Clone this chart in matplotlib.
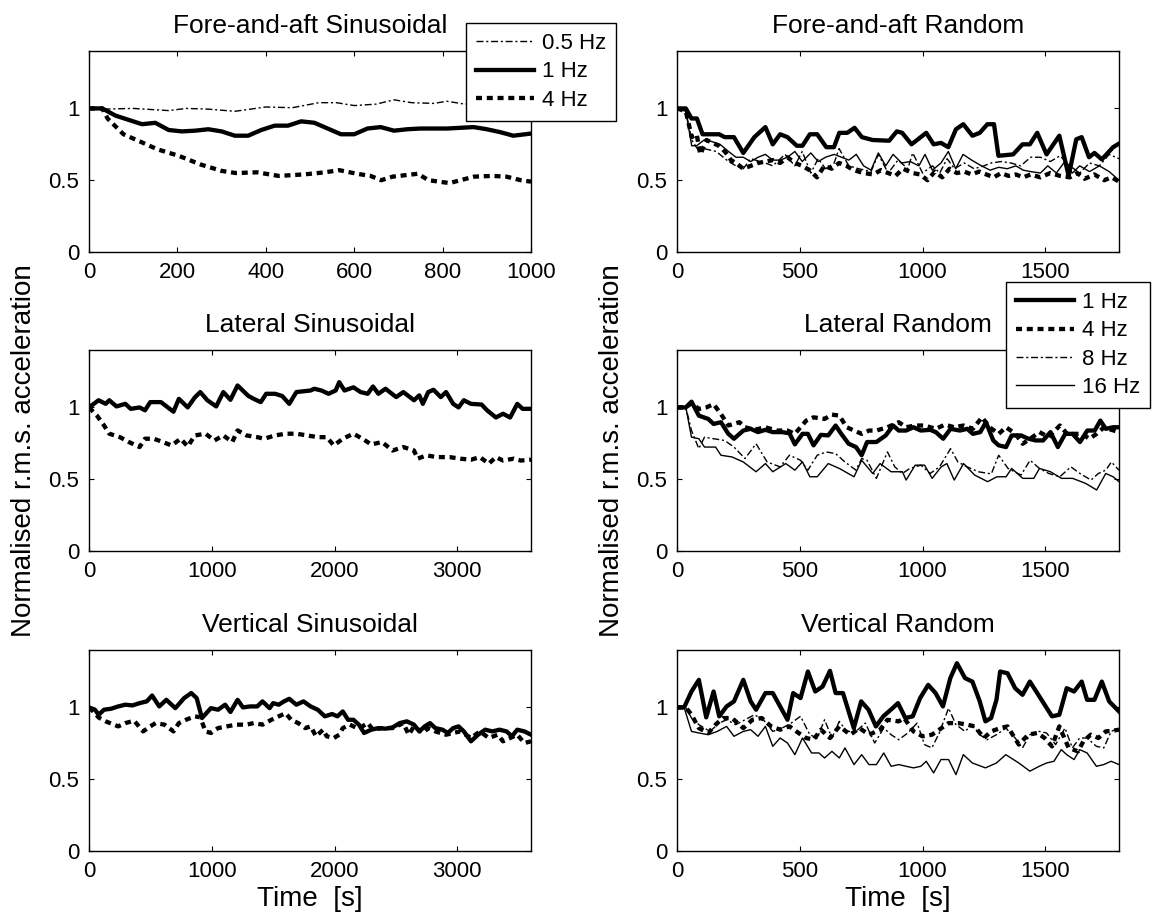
import matplotlib
matplotlib.use("Agg")
import matplotlib.pyplot as plt

plt.rcParams['font.family'] = ['Liberation Sans', 'DejaVu Sans']

# ---- Fore-and-aft sinusoidal (0.5, 1, 4 Hz)
fa_sin_t05 = [0, 30, 100, 180, 220, 270, 330, 400, 460, 520, 560, 600, 650, 690, 730, 780, 810, 850, 900, 950, 1000]
fa_sin_05 = [1.0, 0.995, 1.0, 0.985, 1.0, 0.995, 0.98, 1.01, 1.005, 1.04, 1.04, 1.02, 1.03, 1.06, 1.04, 1.035, 1.05, 1.03, 1.04, 1.05, 1.05]
fa_sin_t1 = [0, 30, 60, 90, 120, 150, 180, 210, 240, 270, 300, 330, 360, 390, 420, 450, 480, 510, 540, 570, 600, 630, 660, 690, 720, 750, 780, 810, 840, 870, 900, 930, 960, 1000]
fa_sin_1 = [1.0, 1.0, 0.95, 0.92, 0.89, 0.90, 0.85, 0.84, 0.845, 0.855, 0.84, 0.81, 0.81, 0.85, 0.88, 0.88, 0.91, 0.90, 0.86, 0.82, 0.82, 0.86, 0.87, 0.845, 0.855, 0.86, 0.86, 0.86, 0.865, 0.87, 0.855, 0.835, 0.81, 0.825]
fa_sin_t4 = [0, 30, 42, 78, 115, 155, 203, 252, 300, 332, 380, 429, 485, 534, 566, 606, 637, 661, 687, 744, 768, 816, 840, 872, 912, 944, 977, 1000]
fa_sin_4 = [1.0, 1.0, 0.93, 0.82, 0.77, 0.715, 0.67, 0.61, 0.565, 0.55, 0.555, 0.53, 0.54, 0.555, 0.57, 0.545, 0.53, 0.50, 0.525, 0.545, 0.50, 0.48, 0.50, 0.525, 0.53, 0.525, 0.50, 0.49]

# ---- Fore-and-aft random (1, 4, 8, 16 Hz)
fa_rnd_t1 = [0, 36, 59, 81, 104, 127, 172, 194, 232, 270, 315, 360, 390, 420, 450, 488, 511, 541, 571, 608, 639, 661, 693, 723, 753, 797, 864, 895, 917, 955, 1015, 1045, 1075, 1105, 1136, 1166, 1203, 1233, 1264, 1291, 1309, 1369, 1407, 1437, 1467, 1505, 1557, 1595, 1626, 1648, 1678, 1700, 1730, 1776, 1800]
fa_rnd_1 = [1.0, 1.0, 0.93, 0.93, 0.82, 0.82, 0.82, 0.80, 0.80, 0.69, 0.80, 0.87, 0.75, 0.82, 0.80, 0.74, 0.74, 0.82, 0.82, 0.73, 0.73, 0.83, 0.83, 0.865, 0.80, 0.78, 0.775, 0.84, 0.83, 0.75, 0.83, 0.75, 0.76, 0.73, 0.855, 0.89, 0.81, 0.83, 0.89, 0.89, 0.67, 0.68, 0.75, 0.75, 0.83, 0.68, 0.81, 0.53, 0.785, 0.80, 0.66, 0.69, 0.645, 0.73, 0.755]
fa_rnd_t4 = [0, 36, 60, 80, 95, 120, 170, 195, 220, 240, 270, 300, 330, 360, 390, 420, 450, 480, 510, 540, 570, 600, 630, 660, 690, 720, 760, 800, 830, 860, 890, 920, 960, 990, 1020, 1050, 1080, 1110, 1140, 1170, 1200, 1230, 1260, 1290, 1320, 1350, 1380, 1410, 1440, 1480, 1520, 1560, 1600, 1630, 1660, 1700, 1740, 1770, 1800]
fa_rnd_4 = [1.0, 0.98, 0.80, 0.82, 0.68, 0.78, 0.74, 0.70, 0.64, 0.62, 0.58, 0.60, 0.62, 0.63, 0.64, 0.62, 0.66, 0.62, 0.60, 0.57, 0.52, 0.60, 0.58, 0.62, 0.60, 0.57, 0.55, 0.54, 0.57, 0.55, 0.53, 0.58, 0.55, 0.54, 0.50, 0.56, 0.52, 0.58, 0.55, 0.56, 0.54, 0.56, 0.54, 0.52, 0.55, 0.53, 0.54, 0.52, 0.54, 0.52, 0.55, 0.53, 0.52, 0.55, 0.51, 0.54, 0.50, 0.52, 0.49]
fa_rnd_t8 = [0, 36, 60, 90, 110, 160, 210, 240, 270, 300, 360, 390, 440, 480, 510, 545, 575, 605, 640, 660, 700, 740, 790, 820, 860, 900, 940, 960, 1000, 1040, 1070, 1100, 1130, 1170, 1210, 1250, 1280, 1320, 1360, 1400, 1440, 1480, 1520, 1560, 1600, 1640, 1680, 1720, 1760, 1800]
fa_rnd_8 = [1.0, 0.98, 0.78, 0.70, 0.72, 0.70, 0.63, 0.60, 0.58, 0.65, 0.62, 0.60, 0.68, 0.60, 0.70, 0.55, 0.65, 0.58, 0.62, 0.72, 0.60, 0.58, 0.56, 0.68, 0.55, 0.64, 0.58, 0.69, 0.55, 0.60, 0.55, 0.65, 0.58, 0.62, 0.58, 0.60, 0.62, 0.63, 0.62, 0.60, 0.66, 0.66, 0.63, 0.67, 0.60, 0.55, 0.62, 0.60, 0.68, 0.65]
fa_rnd_t16 = [0, 36, 60, 80, 110, 140, 175, 210, 240, 270, 300, 330, 360, 390, 420, 450, 480, 510, 545, 575, 605, 640, 670, 700, 730, 760, 790, 820, 850, 880, 915, 950, 985, 1010, 1040, 1075, 1105, 1135, 1165, 1200, 1240, 1275, 1310, 1345, 1380, 1410, 1440, 1480, 1510, 1545, 1575, 1610, 1640, 1680, 1720, 1760, 1800]
fa_rnd_16 = [1.0, 0.98, 0.74, 0.74, 0.78, 0.77, 0.75, 0.70, 0.66, 0.66, 0.63, 0.66, 0.68, 0.64, 0.64, 0.66, 0.70, 0.63, 0.69, 0.63, 0.66, 0.68, 0.66, 0.64, 0.68, 0.60, 0.57, 0.69, 0.60, 0.68, 0.62, 0.63, 0.60, 0.68, 0.57, 0.62, 0.70, 0.58, 0.68, 0.64, 0.60, 0.57, 0.59, 0.58, 0.60, 0.57, 0.56, 0.55, 0.60, 0.55, 0.62, 0.55, 0.60, 0.56, 0.60, 0.56, 0.50]

# ---- Lateral sinusoidal (1, 4 Hz)
lat_sin_t1 = [0, 78, 136, 165, 224, 296, 340, 412, 456, 499, 586, 688, 732, 804, 862, 906, 964, 1036, 1094, 1152, 1210, 1298, 1341, 1399, 1443, 1515, 1573, 1631, 1689, 1805, 1835, 1893, 1951, 2009, 2038, 2081, 2154, 2212, 2270, 2313, 2357, 2415, 2502, 2560, 2647, 2690, 2719, 2763, 2806, 2865, 2908, 2966, 3010, 3053, 3111, 3198, 3242, 3314, 3372, 3430, 3488, 3532, 3600]
lat_sin_1 = [1.0, 1.05, 1.025, 1.05, 1.007, 1.025, 0.99, 1.0, 0.98, 1.037, 1.037, 0.97, 1.06, 1.0, 1.07, 1.107, 1.05, 1.007, 1.107, 1.053, 1.153, 1.08, 1.06, 1.037, 1.095, 1.095, 1.08, 1.025, 1.107, 1.118, 1.13, 1.118, 1.095, 1.118, 1.176, 1.118, 1.14, 1.107, 1.095, 1.146, 1.095, 1.13, 1.072, 1.107, 1.05, 1.084, 1.025, 1.107, 1.123, 1.072, 1.107, 1.025, 1.0, 1.05, 1.025, 1.02, 0.98, 0.93, 0.956, 0.93, 1.025, 0.99, 0.99]
lat_sin_t4 = [0, 64, 122, 165, 252, 325, 412, 456, 528, 601, 673, 746, 804, 862, 949, 1022, 1094, 1167, 1210, 1283, 1370, 1428, 1515, 1602, 1689, 1776, 1863, 1936, 1994, 2067, 2154, 2227, 2299, 2386, 2473, 2560, 2647, 2676, 2748, 2835, 2937, 3024, 3111, 3184, 3256, 3314, 3372, 3459, 3517, 3600]
lat_sin_4 = [1.0, 0.944, 0.875, 0.817, 0.793, 0.759, 0.724, 0.782, 0.782, 0.759, 0.735, 0.782, 0.728, 0.805, 0.817, 0.77, 0.805, 0.759, 0.84, 0.805, 0.793, 0.782, 0.805, 0.817, 0.817, 0.805, 0.793, 0.793, 0.735, 0.782, 0.817, 0.782, 0.742, 0.759, 0.70, 0.724, 0.70, 0.643, 0.666, 0.654, 0.654, 0.643, 0.636, 0.654, 0.608, 0.654, 0.63, 0.643, 0.63, 0.636]

# ---- Lateral random (1, 4, 8, 16 Hz)
lat_rnd_t1 = [0, 36, 59, 89, 127, 149, 179, 209, 232, 270, 300, 330, 360, 390, 428, 458, 480, 511, 533, 556, 586, 616, 646, 669, 699, 729, 752, 774, 812, 850, 880, 903, 933, 963, 993, 1031, 1054, 1084, 1114, 1152, 1182, 1205, 1235, 1258, 1288, 1310, 1340, 1363, 1401, 1431, 1461, 1491, 1521, 1551, 1581, 1611, 1641, 1671, 1701, 1724, 1746, 1776, 1800]
lat_rnd_1 = [1.0, 1.0, 1.04, 0.943, 0.92, 0.885, 0.897, 0.816, 0.782, 0.839, 0.851, 0.828, 0.844, 0.828, 0.828, 0.82, 0.743, 0.816, 0.816, 0.736, 0.809, 0.805, 0.874, 0.816, 0.747, 0.724, 0.667, 0.759, 0.759, 0.805, 0.874, 0.839, 0.839, 0.862, 0.839, 0.844, 0.828, 0.782, 0.851, 0.839, 0.851, 0.816, 0.828, 0.897, 0.77, 0.736, 0.724, 0.805, 0.805, 0.782, 0.77, 0.77, 0.828, 0.724, 0.816, 0.816, 0.759, 0.839, 0.839, 0.908, 0.851, 0.862, 0.862]
lat_rnd_t4 = [0, 36, 59, 89, 119, 149, 179, 209, 254, 277, 315, 360, 405, 450, 480, 526, 556, 601, 631, 661, 691, 721, 752, 782, 812, 857, 903, 933, 970, 1008, 1054, 1091, 1129, 1167, 1205, 1242, 1273, 1310, 1340, 1378, 1408, 1438, 1476, 1514, 1559, 1589, 1619, 1649, 1679, 1709, 1739, 1769, 1800]
lat_rnd_4 = [1.0, 1.0, 1.03, 0.989, 1.0, 1.023, 0.954, 0.874, 0.897, 0.862, 0.844, 0.862, 0.839, 0.839, 0.816, 0.908, 0.931, 0.92, 0.95, 0.943, 0.862, 0.839, 0.816, 0.839, 0.839, 0.862, 0.897, 0.862, 0.874, 0.874, 0.851, 0.88, 0.862, 0.874, 0.851, 0.931, 0.862, 0.816, 0.862, 0.816, 0.747, 0.782, 0.828, 0.793, 0.874, 0.816, 0.816, 0.816, 0.782, 0.816, 0.862, 0.844, 0.828]
lat_rnd_t8 = [0, 36, 59, 89, 112, 149, 194, 232, 277, 322, 367, 420, 458, 503, 533, 571, 608, 646, 684, 729, 752, 774, 812, 857, 887, 918, 948, 993, 1031, 1069, 1114, 1144, 1182, 1227, 1280, 1310, 1348, 1401, 1438, 1476, 1514, 1559, 1604, 1641, 1686, 1716, 1746, 1769, 1800]
lat_rnd_8 = [1.0, 1.0, 0.839, 0.713, 0.793, 0.782, 0.77, 0.724, 0.644, 0.747, 0.62, 0.586, 0.667, 0.632, 0.563, 0.667, 0.69, 0.678, 0.62, 0.563, 0.644, 0.632, 0.506, 0.69, 0.586, 0.54, 0.575, 0.598, 0.54, 0.586, 0.713, 0.62, 0.586, 0.552, 0.537, 0.667, 0.575, 0.529, 0.632, 0.575, 0.54, 0.517, 0.586, 0.54, 0.494, 0.54, 0.563, 0.62, 0.563]
lat_rnd_t16 = [0, 36, 59, 89, 112, 157, 179, 224, 270, 322, 360, 390, 443, 480, 511, 541, 571, 616, 661, 721, 752, 797, 827, 872, 918, 933, 970, 1008, 1039, 1076, 1099, 1129, 1167, 1212, 1265, 1303, 1340, 1363, 1408, 1453, 1476, 1521, 1566, 1611, 1664, 1709, 1746, 1776, 1800]
lat_rnd_16 = [1.0, 1.0, 0.793, 0.782, 0.724, 0.724, 0.667, 0.655, 0.62, 0.552, 0.609, 0.552, 0.609, 0.563, 0.621, 0.517, 0.517, 0.609, 0.575, 0.517, 0.632, 0.54, 0.609, 0.552, 0.552, 0.494, 0.598, 0.598, 0.506, 0.586, 0.609, 0.494, 0.609, 0.529, 0.483, 0.517, 0.517, 0.575, 0.506, 0.506, 0.575, 0.552, 0.506, 0.506, 0.471, 0.425, 0.54, 0.517, 0.483]

# ---- Vertical sinusoidal (1, 4 Hz)
vert_sin_t1 = [0, 49, 78, 122, 180, 238, 296, 354, 412, 470, 514, 572, 630, 703, 775, 833, 877, 920, 993, 1051, 1109, 1152, 1210, 1254, 1312, 1370, 1413, 1471, 1500, 1545, 1588, 1631, 1689, 1747, 1805, 1863, 1921, 1980, 2023, 2067, 2110, 2154, 2198, 2241, 2299, 2357, 2415, 2473, 2531, 2589, 2647, 2690, 2734, 2777, 2821, 2879, 2922, 2966, 3010, 3053, 3111, 3169, 3227, 3285, 3343, 3401, 3445, 3488, 3546, 3600]
vert_sin_1 = [1.0, 0.984, 0.949, 0.984, 0.991, 1.007, 1.019, 1.014, 1.03, 1.042, 1.083, 1.007, 1.053, 0.995, 1.065, 1.1, 1.065, 0.926, 0.995, 0.984, 1.019, 0.968, 1.053, 1.0, 1.007, 1.007, 1.042, 0.995, 1.03, 1.019, 1.042, 1.06, 1.019, 1.042, 1.007, 0.984, 0.938, 0.954, 0.938, 0.972, 0.914, 0.914, 0.88, 0.822, 0.845, 0.856, 0.852, 0.861, 0.891, 0.903, 0.88, 0.833, 0.868, 0.891, 0.856, 0.845, 0.822, 0.856, 0.868, 0.833, 0.764, 0.81, 0.845, 0.833, 0.845, 0.833, 0.799, 0.845, 0.833, 0.81]
vert_sin_t4 = [0, 49, 78, 136, 238, 296, 368, 441, 499, 543, 615, 688, 732, 790, 862, 906, 949, 993, 1051, 1123, 1196, 1283, 1341, 1413, 1486, 1545, 1602, 1646, 1704, 1762, 1805, 1849, 1907, 1936, 1994, 2038, 2067, 2125, 2183, 2227, 2270, 2313, 2386, 2473, 2560, 2604, 2647, 2719, 2763, 2821, 2908, 2966, 3024, 3111, 3184, 3256, 3329, 3372, 3430, 3488, 3546, 3600]
vert_sin_4 = [1.0, 0.96, 0.93, 0.903, 0.868, 0.891, 0.907, 0.833, 0.868, 0.891, 0.88, 0.833, 0.891, 0.914, 0.938, 0.931, 0.833, 0.822, 0.856, 0.868, 0.88, 0.88, 0.891, 0.88, 0.914, 0.938, 0.96, 0.914, 0.891, 0.856, 0.868, 0.799, 0.845, 0.799, 0.787, 0.81, 0.856, 0.88, 0.856, 0.868, 0.891, 0.845, 0.856, 0.856, 0.891, 0.81, 0.868, 0.822, 0.856, 0.833, 0.81, 0.822, 0.833, 0.787, 0.833, 0.787, 0.81, 0.764, 0.787, 0.81, 0.752, 0.764]

# ---- Vertical random (1, 4, 8, 16 Hz)
vert_rnd_t1 = [0, 29, 59, 89, 119, 149, 172, 202, 232, 270, 300, 322, 360, 390, 420, 450, 473, 503, 533, 563, 593, 623, 646, 676, 720, 750, 780, 810, 840, 878, 900, 930, 960, 990, 1023, 1053, 1083, 1113, 1140, 1173, 1203, 1233, 1256, 1279, 1301, 1316, 1346, 1377, 1407, 1437, 1467, 1497, 1527, 1557, 1587, 1617, 1648, 1670, 1700, 1730, 1760, 1800]
vert_rnd_1 = [1.0, 1.0, 1.111, 1.192, 0.931, 1.111, 0.938, 1.007, 1.042, 1.192, 1.042, 0.984, 1.1, 1.1, 1.007, 0.914, 1.1, 1.065, 1.25, 1.111, 1.146, 1.255, 1.1, 1.1, 0.856, 1.042, 0.984, 0.868, 0.938, 0.995, 1.03, 0.926, 0.938, 1.065, 1.157, 1.1, 1.007, 1.204, 1.308, 1.204, 1.18, 1.042, 0.903, 0.926, 1.053, 1.25, 1.238, 1.134, 1.088, 1.18, 1.1, 1.019, 0.938, 0.949, 1.134, 1.111, 1.18, 1.053, 1.053, 1.18, 1.042, 0.972]
vert_rnd_t4 = [0, 36, 59, 89, 127, 157, 187, 224, 270, 307, 345, 383, 420, 458, 495, 526, 556, 586, 623, 661, 706, 743, 782, 827, 857, 903, 925, 963, 1000, 1038, 1068, 1106, 1144, 1182, 1212, 1250, 1279, 1316, 1346, 1392, 1430, 1467, 1497, 1527, 1557, 1595, 1633, 1655, 1685, 1716, 1746, 1776, 1800]
vert_rnd_4 = [1.0, 1.0, 0.949, 0.856, 0.822, 0.88, 0.926, 0.926, 0.856, 0.914, 0.926, 0.868, 0.845, 0.868, 0.822, 0.787, 0.775, 0.845, 0.787, 0.868, 0.81, 0.856, 0.81, 0.845, 0.914, 0.903, 0.926, 0.833, 0.799, 0.81, 0.845, 0.891, 0.891, 0.88, 0.868, 0.787, 0.833, 0.856, 0.868, 0.741, 0.81, 0.822, 0.787, 0.729, 0.868, 0.718, 0.694, 0.764, 0.81, 0.787, 0.833, 0.838, 0.845]
vert_rnd_t8 = [0, 36, 59, 89, 134, 172, 202, 239, 277, 315, 352, 390, 428, 465, 503, 541, 571, 601, 631, 661, 691, 729, 767, 805, 842, 872, 903, 940, 978, 1008, 1038, 1068, 1106, 1136, 1173, 1203, 1233, 1263, 1301, 1339, 1377, 1407, 1437, 1475, 1505, 1542, 1580, 1610, 1640, 1670, 1708, 1738, 1768, 1800]
vert_rnd_8 = [1.0, 1.0, 0.926, 0.88, 0.833, 0.891, 0.914, 0.88, 0.914, 0.949, 0.914, 0.833, 0.856, 0.891, 0.938, 0.81, 0.787, 0.914, 0.787, 0.903, 0.833, 0.833, 0.891, 0.752, 0.856, 0.81, 0.775, 0.822, 0.891, 0.741, 0.718, 0.822, 0.995, 0.88, 0.833, 0.88, 0.81, 0.775, 0.81, 0.856, 0.787, 0.718, 0.81, 0.833, 0.822, 0.741, 0.856, 0.718, 0.787, 0.787, 0.729, 0.718, 0.833, 0.856]
vert_rnd_t16 = [0, 29, 59, 89, 127, 164, 202, 232, 270, 300, 330, 360, 390, 420, 450, 480, 511, 548, 578, 601, 631, 661, 684, 721, 752, 782, 812, 842, 872, 903, 933, 963, 993, 1015, 1045, 1075, 1106, 1136, 1166, 1203, 1256, 1301, 1339, 1392, 1437, 1475, 1505, 1535, 1565, 1587, 1617, 1640, 1670, 1708, 1738, 1768, 1800]
vert_rnd_16 = [1.0, 1.0, 0.833, 0.822, 0.81, 0.833, 0.868, 0.799, 0.833, 0.845, 0.799, 0.868, 0.729, 0.787, 0.752, 0.671, 0.787, 0.683, 0.683, 0.648, 0.694, 0.648, 0.718, 0.602, 0.671, 0.602, 0.602, 0.683, 0.59, 0.602, 0.59, 0.579, 0.59, 0.625, 0.544, 0.637, 0.637, 0.532, 0.671, 0.613, 0.579, 0.613, 0.671, 0.613, 0.556, 0.59, 0.613, 0.625, 0.706, 0.671, 0.637, 0.706, 0.683, 0.59, 0.602, 0.625, 0.602]

# line styles
thick = dict(color='k', lw=3.1, solid_joinstyle='round')
dotted = dict(color='k', lw=3.1, ls=(0, (1.4, 1.1)), dash_capstyle='butt')
dashdot = dict(color='k', lw=1.0, ls=(0, (5, 2, 1.5, 2)))
thin = dict(color='k', lw=1.0)

W, H = 1161, 916
fig = plt.figure(figsize=(W / 100, H / 100), dpi=100)


def make_axes(left, top):
    # pixel box -> figure fraction
    return fig.add_axes([left / W, 1 - (top + 201) / H, 442 / W, 201 / H])


def style(ax, title, xmax, xticks):
    ax.set_xlim(0, xmax)
    ax.set_ylim(0, 1.4)
    ax.set_xticks(xticks)
    ax.set_yticks([0, 0.5, 1])
    ax.set_yticklabels(['0', '0.5', '1'])
    ax.tick_params(direction='in', top=True, right=True, length=3.6, width=0.8,
                   labelsize=16, pad=7)
    for s in ax.spines.values():
        s.set_linewidth(1.0)
    ax.set_title(title, fontsize=19, pad=13)


ax1 = make_axes(89, 51)
ax2 = make_axes(677, 51)
ax3 = make_axes(89, 350)
ax4 = make_axes(677, 350)
ax5 = make_axes(89, 650)
ax6 = make_axes(677, 650)

sin_ticks_short = [0, 200, 400, 600, 800, 1000]
sin_ticks = [0, 1000, 2000, 3000]
rnd_ticks = [0, 500, 1000, 1500]

h05, = ax1.plot(fa_sin_t05, fa_sin_05, **dashdot)
h1, = ax1.plot(fa_sin_t1, fa_sin_1, **thick)
h4, = ax1.plot(fa_sin_t4, fa_sin_4, **dotted)
style(ax1, 'Fore-and-aft Sinusoidal', 1000, sin_ticks_short)

ax2.plot(fa_rnd_t16, fa_rnd_16, **thin)
ax2.plot(fa_rnd_t8, fa_rnd_8, **dashdot)
ax2.plot(fa_rnd_t4, fa_rnd_4, **dotted)
ax2.plot(fa_rnd_t1, fa_rnd_1, **thick)
style(ax2, 'Fore-and-aft Random', 1800, rnd_ticks)

ax3.plot(lat_sin_t4, lat_sin_4, **dotted)
ax3.plot(lat_sin_t1, lat_sin_1, **thick)
style(ax3, 'Lateral Sinusoidal', 3600, sin_ticks)

r16, = ax4.plot(lat_rnd_t16, lat_rnd_16, **thin)
r8, = ax4.plot(lat_rnd_t8, lat_rnd_8, **dashdot)
r1, = ax4.plot(lat_rnd_t1, lat_rnd_1, **thick)
r4, = ax4.plot(lat_rnd_t4, lat_rnd_4, **dotted)
style(ax4, 'Lateral Random', 1800, rnd_ticks)

ax5.plot(vert_sin_t4, vert_sin_4, **dotted)
ax5.plot(vert_sin_t1, vert_sin_1, **thick)
style(ax5, 'Vertical Sinusoidal', 3600, sin_ticks)

ax6.plot(vert_rnd_t16, vert_rnd_16, **thin)
ax6.plot(vert_rnd_t8, vert_rnd_8, **dashdot)
ax6.plot(vert_rnd_t4, vert_rnd_4, **dotted)
ax6.plot(vert_rnd_t1, vert_rnd_1, **thick)
style(ax6, 'Vertical Random', 1800, rnd_ticks)

for ax in (ax3, ax4):
    ax.set_ylabel('Normalised r.m.s. acceleration', fontsize=20, labelpad=8)
for ax in (ax5, ax6):
    ax.set_xlabel('Time  [s]', fontsize=20, labelpad=3)

leg_kw = dict(frameon=True, fancybox=False, edgecolor='k', framealpha=1,
              fontsize=16, handlelength=2.6, handletextpad=0.35,
              labelspacing=0.33, borderpad=0.45, borderaxespad=0)

leg1 = fig.legend([h05, h1, h4], ['0.5 Hz', '1 Hz', '4 Hz'], loc='upper left',
                  bbox_to_anchor=(466 / W, 1 - 23 / H), **leg_kw)
leg2 = fig.legend([r1, r4, r8, r16], ['1 Hz', '4 Hz', '8 Hz', '16 Hz'],
                  loc='lower right', bbox_to_anchor=(1150 / W, 1 - 408 / H), **leg_kw)
for lg in (leg1, leg2):
    lg.get_frame().set_linewidth(1.0)

fig.savefig('out.png', dpi=100)
